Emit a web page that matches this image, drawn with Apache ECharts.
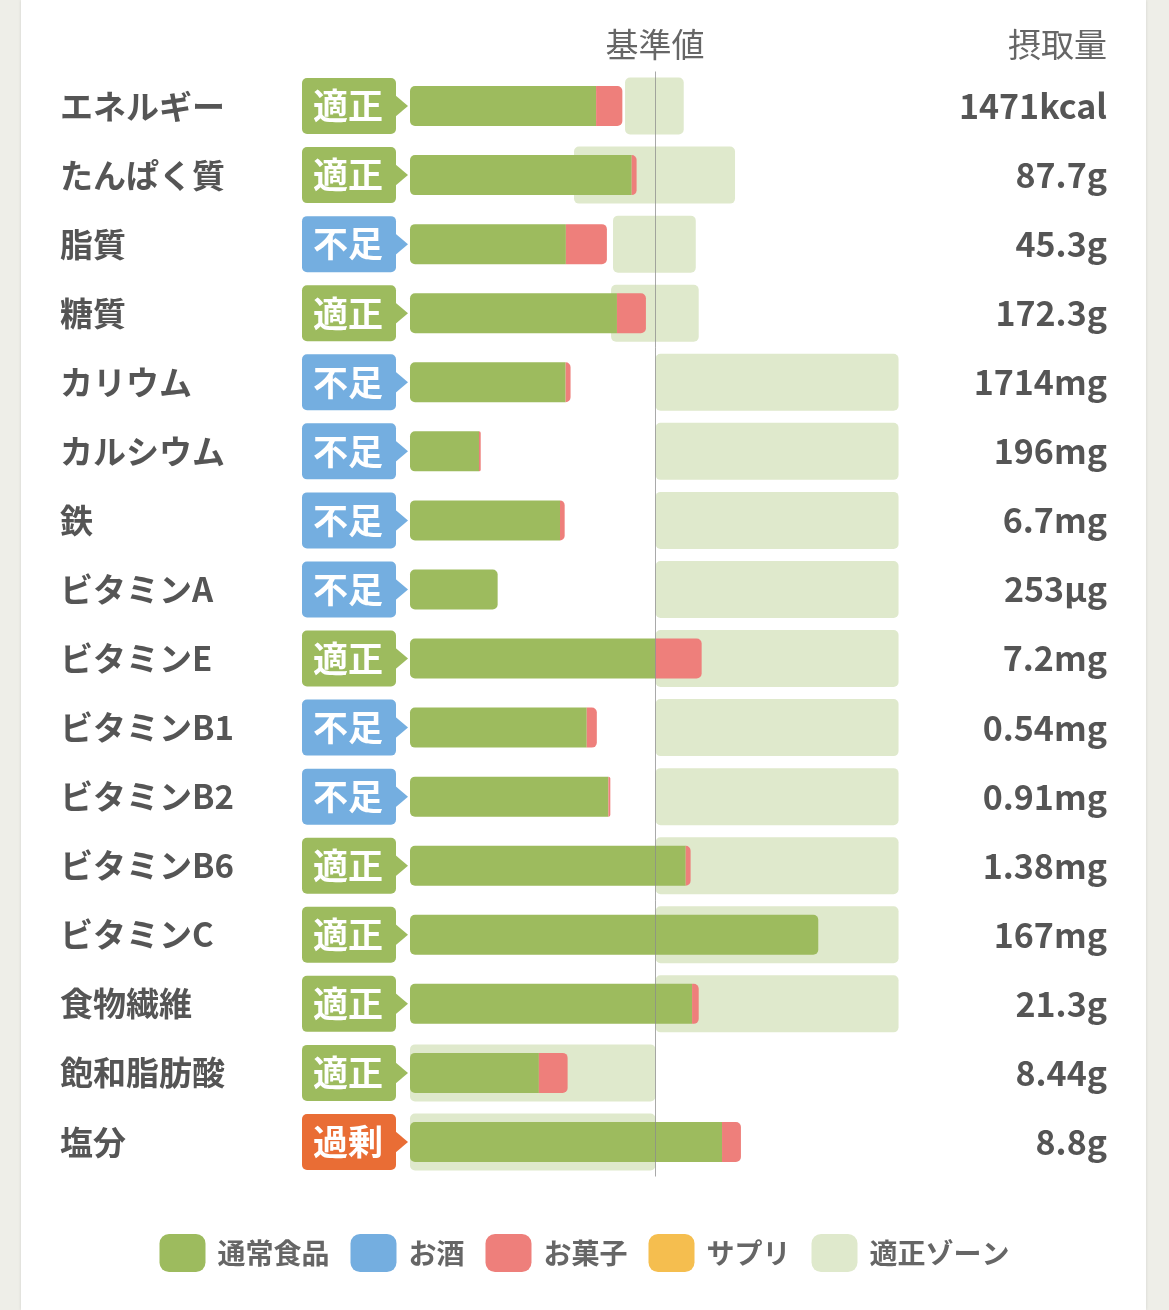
<!DOCTYPE html>
<html>
<head>
<meta charset="utf-8">
<script src="https://cdn.jsdelivr.net/npm/echarts@6/dist/echarts.min.js"></script>
<style>
  html, body { margin: 0; padding: 0; background: #eeeee8; }
  #card { position: absolute; left: 21px; top: 0; width: 1125px; height: 1310px; background: #fff;
          box-shadow: 0 0 3px rgba(0,0,0,0.12); }
  #main { position: absolute; left: 0; top: 0; width: 1169px; height: 1310px; }
</style>
</head>
<body>
<div id="card"></div>
<div id="main"></div>
<script>
// 栄養素
var names = ['エネルギー', 'たんぱく質', '脂質', '糖質', 'カリウム', 'カルシウム', '鉄', 'ビタミンA',
  'ビタミンE', 'ビタミンB1', 'ビタミンB2', 'ビタミンB6', 'ビタミンC', '食物繊維', '飽和脂肪酸', '塩分'];
// 摂取量
var intake = ['1471kcal', '87.7g', '45.3g', '172.3g', '1714mg', '196mg', '6.7mg', '253μg',
  '7.2mg', '0.54mg', '0.91mg', '1.38mg', '167mg', '21.3g', '8.44g', '8.8g'];
// 判定 (window.status とぶつかるので別名)
var judge = ['適正', '適正', '不足', '適正', '不足', '不足', '不足', '不足',
  '適正', '不足', '不足', '適正', '適正', '適正', '適正', '過剰'];
// 基準値に対する割合(%)
var food = [75.8, 90.3, 63.5, 84.3, 63.4, 28.1, 61.1, 35.7, 99.9, 72.0, 80.8, 112.3, 166.3, 114.9, 52.5, 127.1];
var alcohol = [0, 0, 0, 0, 0, 0, 0, 0, 0, 0, 0, 0, 0, 0, 0, 0];
var sweets = [10.7, 2.0, 16.7, 11.8, 2.0, 0.7, 1.9, 0, 18.9, 4.1, 0.8, 2.0, 0, 2.7, 11.7, 7.7];
var supplement = [0, 0, 0, 0, 0, 0, 0, 0, 0, 0, 0, 0, 0, 0, 0, 0];
// 適正ゾーン
var zoneLow = [87.6, 66.8, 82.7, 81.9, 100, 100, 100, 100, 100, 100, 100, 100, 100, 100, 0, 0];
var zoneHigh = [111.5, 132.4, 116.4, 117.6, 199, 199, 199, 199, 199, 199, 199, 199, 199, 199, 100, 100];

var FONT = "'Noto Sans CJK JP', sans-serif";
var badgeColor = { '適正': '#9dbb5e', '不足': '#74aee0', '過剰': '#e96d35' };

var myChart = echarts.init(document.getElementById('main'));

var foodData = food.map(function (v, i) {
  return { value: v, itemStyle: { borderRadius: sweets[i] > 0 ? [5, 0, 0, 5] : 5 } };
});

var hiddenAxis = {
  axisLine: { show: false }, axisTick: { show: false }, splitLine: { show: false }
};

var option = {
  animation: false,
  textStyle: { fontFamily: FONT },
  grid: { left: 410, top: 71.5, width: 491, height: 1105 },
  xAxis: { type: 'value', min: 0, max: 200, show: false },
  yAxis: [
    Object.assign({
      type: 'category', data: names, inverse: true,
      axisLabel: { align: 'left', margin: 350, fontSize: 33, fontWeight: 'bold', color: '#555', fontFamily: FONT }
    }, hiddenAxis),
    Object.assign({
      type: 'category', data: intake, inverse: true, position: 'right',
      axisLabel: { align: 'right', margin: 206, fontSize: 34, fontWeight: 'bold', color: '#555', fontFamily: FONT }
    }, hiddenAxis),
    // 適正ゾーン用（棒を中央に揃えるため別軸）
    { type: 'category', data: names, inverse: true, show: false }
  ],
  legend: {
    bottom: 33, left: 'center',
    itemWidth: 46, itemHeight: 38, itemGap: 21, icon: 'roundRect',
    textStyle: { fontSize: 28, fontWeight: 'bold', color: '#666', fontFamily: FONT, padding: [0, 0, 0, 7] },
    data: ['通常食品', 'お酒', 'お菓子', 'サプリ', '適正ゾーン']
  },
  graphic: [
    { type: 'text', x: 655, y: 44, style: { text: '基準値', fill: '#666', font: '33px ' + FONT, textAlign: 'center', textVerticalAlign: 'middle' } },
    { type: 'text', x: 1107, y: 44, style: { text: '摂取量', fill: '#666', font: '33px ' + FONT, textAlign: 'right', textVerticalAlign: 'middle' } }
  ],
  series: [
    {
      name: 'zoneBase', type: 'bar', stack: 'zone', yAxisIndex: 2, barWidth: 57, silent: true,
      itemStyle: { color: 'transparent' }, data: zoneLow
    },
    {
      name: '適正ゾーン', type: 'bar', stack: 'zone', yAxisIndex: 2, barWidth: 57, silent: true,
      itemStyle: { color: '#dfe9cc', borderRadius: 5 },
      data: zoneHigh.map(function (v, i) { return +(v - zoneLow[i]).toFixed(1); })
    },
    {
      name: '通常食品', type: 'bar', stack: 'main', barWidth: 40,
      itemStyle: { color: '#9dbb5e' }, data: foodData
    },
    {
      name: 'お酒', type: 'bar', stack: 'main', barWidth: 40,
      itemStyle: { color: '#74aee0' }, data: alcohol
    },
    {
      name: 'お菓子', type: 'bar', stack: 'main', barWidth: 40,
      itemStyle: { color: '#ee7f7b', borderRadius: [0, 5, 5, 0] }, data: sweets
    },
    {
      name: 'サプリ', type: 'bar', stack: 'main', barWidth: 40,
      itemStyle: { color: '#f5be4f' }, data: supplement,
      markLine: {
        silent: true, symbol: 'none', label: { show: false },
        lineStyle: { color: 'rgba(140,140,140,0.75)', width: 1, type: 'solid' },
        data: [{ xAxis: 100 }]
      }
    },
    {
      name: 'badge', type: 'custom', clip: false, silent: true,
      data: judge.map(function (s, i) { return [0, i]; }),
      renderItem: function (params, api) {
        var p = api.coord([0, api.value(1)]);
        var s = judge[params.dataIndex];
        var right = p[0] - 14, left = p[0] - 108, cy = p[1];
        var col = badgeColor[s];
        return {
          type: 'group',
          children: [
            { type: 'rect', shape: { x: left, y: cy - 28, width: right - left, height: 56, r: 5 }, style: { fill: col } },
            { type: 'polygon', shape: { points: [[right - 1, cy - 11], [right + 12, cy], [right - 1, cy + 11]] }, style: { fill: col } },
            { type: 'text', x: (left + right) / 2 - 1, y: cy, style: { text: s, fill: '#fff', font: 'bold 35px ' + FONT, textAlign: 'center', textVerticalAlign: 'middle' } }
          ]
        };
      }
    }
  ]
};

myChart.setOption(option);
</script>
</body>
</html>
